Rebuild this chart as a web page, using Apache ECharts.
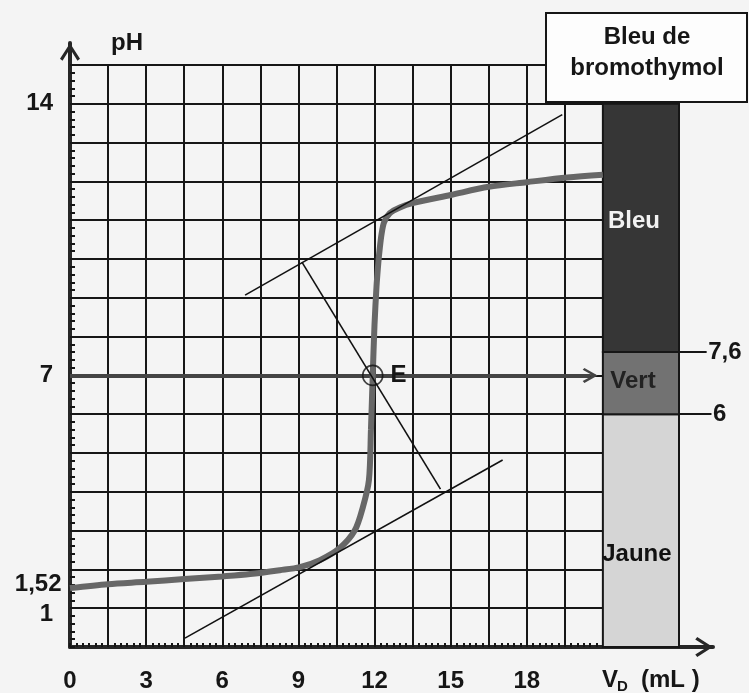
<!DOCTYPE html>
<html lang="fr">
<head>
<meta charset="UTF-8">
<title>Dosage pH-métrique - bleu de bromothymol</title>
<script src="https://cdn.jsdelivr.net/npm/echarts@6/dist/echarts.min.js"></script>
<style>
  html, body { margin: 0; padding: 0; background: #f4f4f4; }
  #main { width: 749px; height: 693px; }
</style>
</head>
<body>
<div id="main"></div>
<script>
// courbe pH = f(VD)
var volumes = [0, 1.5, 3, 4.5, 6, 7.1, 8.27, 9.06, 9.85, 10.63, 11.22, 11.54, 11.78, 11.86, 11.93,
  12.0, 12.08, 12.15, 12.2, 12.28, 12.38, 12.6, 13.0, 13.5, 15.0, 16.5, 18.0, 19.6, 21.0];
var phValues = [1.52, 1.62, 1.68, 1.75, 1.82, 1.88, 1.98, 2.06, 2.24, 2.55, 3.0, 3.6, 4.3, 5.6, 7.0,
  8.3, 9.3, 9.9, 10.23, 10.65, 10.95, 11.18, 11.33, 11.44, 11.65, 11.86, 11.98, 12.1, 12.17];

// point d'équivalence et méthode des tangentes
var equivalence = [11.93, 7];
var upperTangent = [[6.9, 9.07], [19.4, 13.72]];
var lowerTangent = [[4.53, 0.23], [17.05, 4.82]];
var perpendicular = [[9.14, 9.92], [14.6, 4.07]];
var pH7Arrow = [[0, 7], [20.5, 7]];
var pHStart = [0, 1.52];

// graduations
var xTickLabels = [0, 3, 6, 9, 12, 15, 18];
var yTickLabels = [1, 7, 14];

// zone de virage du BBT
var zoneNames = ['Jaune', 'Vert', 'Bleu'];
var zoneBounds = [[0, 6], [6, 7.6], [7.6, 14]];
var columnRange = [21, 24];
var limitValues = [7.6, 6];
var limitLabels = ['7,6', '6'];

var FONT = "'Liberation Sans', Arial, sans-serif";
var INK = '#161616';
var CHEVRON = 'path://M10,0L20,15.5L17.5,17.5L10,5.5L2.5,17.5L0,15.5Z M8.6,2L11.4,2L11.4,17.5L8.6,17.5Z';

var zoneStyle = {
  Jaune: { fill: '#d5d5d5', text: '#111', offset: [-4, 24] },
  Vert: { fill: '#727272', text: '#222', offset: [-8, -2] },
  Bleu: { fill: '#363636', text: '#f2f2f2', offset: [-7, -7] }
};
var limitEnds = [25.09, 25.28];

var chart = echarts.init(document.getElementById('main'));

var curve = volumes.map(function (v, i) { return [v, phValues[i]]; });

var zoneAreas = zoneNames.map(function (name, i) {
  var st = zoneStyle[name];
  return [{
    name: name,
    coord: [columnRange[0], zoneBounds[i][0]],
    itemStyle: { color: st.fill, borderColor: INK, borderWidth: 2 },
    label: { color: st.text, offset: st.offset }
  }, {
    coord: [columnRange[1], zoneBounds[i][1]]
  }];
});

var labelFont = {
  fontFamily: FONT, fontSize: 24, fontWeight: 'bold', color: INK,
  textBorderWidth: 0, textBorderColor: 'transparent', opacity: 1
};

var option = {
  backgroundColor: '#f4f4f4',
  animation: false,
  grid: [
    { left: 70, right: 70, top: 65, bottom: 46, outerBoundsMode: 'none' },
    { left: 70, right: 36, top: 43, bottom: 46, outerBoundsMode: 'none' }
  ],
  xAxis: [{
    type: 'value', gridIndex: 0, min: 0, max: 24, interval: 1.5,
    axisLine: { show: false },
    axisTick: { show: true, inside: true, length: 4, lineStyle: { color: INK, width: 2 } },
    minorTick: { show: true, splitNumber: 6, length: 4, lineStyle: { color: INK, width: 2 } },
    splitLine: { show: true, lineStyle: { color: INK, width: 2 } },
    axisLabel: Object.assign({
      margin: 22, interval: 0,
      formatter: function (v) { return xTickLabels.indexOf(v) >= 0 ? String(v) : ''; }
    }, labelFont)
  }, {
    type: 'value', gridIndex: 1, min: 0, max: 1,
    axisLine: {
      show: true, onZero: false, symbol: ['none', CHEVRON], symbolSize: [20, 18], symbolOffset: [0, -9],
      lineStyle: { color: '#262626', width: 4 }
    },
    axisTick: { show: false }, axisLabel: { show: false }, splitLine: { show: false }
  }],
  yAxis: [{
    type: 'value', gridIndex: 0, min: 0, max: 15, interval: 1,
    axisLine: { show: false },
    axisTick: { show: true, inside: true, length: 5, lineStyle: { color: INK, width: 2 } },
    minorTick: { show: true, splitNumber: 5, length: 5, lineStyle: { color: INK, width: 2 } },
    splitLine: { show: true, lineStyle: { color: INK, width: 2 } },
    axisLabel: Object.assign({
      margin: 17,
      formatter: function (v) {
        if (yTickLabels.indexOf(v) < 0) return '';
        // le « 1 » est décalé vers le bas pour laisser la place à 1,52
        return v === 1 ? '{low|1}' : String(v);
      },
      rich: { low: { fontFamily: FONT, fontSize: 24, fontWeight: 'bold', color: INK, padding: [12, 0, 0, 0] } }
    }, labelFont)
  }, {
    type: 'value', gridIndex: 1, min: 0, max: 1,
    axisLine: {
      show: true, onZero: false, symbol: ['none', CHEVRON], symbolSize: [20, 18], symbolOffset: [0, -9],
      lineStyle: { color: '#262626', width: 4 }
    },
    axisTick: { show: false }, axisLabel: { show: false }, splitLine: { show: false }
  }],
  series: [
    {
      name: 'pH',
      type: 'line',
      data: curve,
      smooth: 0.3,
      showSymbol: false,
      symbol: 'none',
      clip: false,
      z: 4,
      lineStyle: { color: '#676767', width: 6 },
      markArea: {
        silent: true,
        label: {
          show: true, position: 'inside',
          fontFamily: FONT, fontSize: 24, fontWeight: 'bold'
        },
        data: zoneAreas
      }
    },
    {
      name: 'pH 7',
      type: 'lines',
      coordinateSystem: 'cartesian2d',
      symbol: ['none', CHEVRON],
      symbolSize: 15,
      z: 3,
      lineStyle: { color: '#444', width: 4, opacity: 1 },
      data: [{ coords: pH7Arrow }]
    },
    {
      name: 'tangentes',
      type: 'lines',
      coordinateSystem: 'cartesian2d',
      symbol: 'none',
      z: 5,
      lineStyle: { color: '#111', width: 1.6, opacity: 1 },
      data: [{ coords: upperTangent }, { coords: lowerTangent }, { coords: perpendicular }]
    },
    {
      name: 'limites',
      type: 'lines',
      coordinateSystem: 'cartesian2d',
      symbol: 'none',
      clip: false,
      z: 5,
      lineStyle: { color: INK, width: 2, opacity: 1 },
      data: limitValues.map(function (v, i) {
        return { coords: [[columnRange[1], v], [limitEnds[i], v]] };
      })
    },
    {
      name: 'repères',
      type: 'scatter',
      symbol: 'circle',
      symbolSize: 1,
      clip: false,
      z: 6,
      itemStyle: { color: 'rgba(0,0,0,0)' },
      label: Object.assign({ show: true, position: 'right', distance: 1 }, labelFont),
      data: limitValues.map(function (v, i) {
        return { value: [limitEnds[i], v], label: { formatter: limitLabels[i] } };
      }).concat([{
        value: pHStart,
        label: { position: 'left', distance: 8, offset: [0, -4], formatter: String(pHStart[1]).replace('.', ',') }
      }])
    },
    {
      name: 'E',
      type: 'scatter',
      symbol: 'circle',
      symbolSize: 20,
      z: 7,
      itemStyle: { color: 'rgba(0,0,0,0)', borderColor: '#111', borderWidth: 1.6 },
      label: Object.assign({ show: true, position: 'right', distance: 7, formatter: 'E' }, labelFont),
      data: [equivalence]
    }
  ],
  graphic: [
    {
      type: 'text', x: 127, y: 43, z: 100,
      style: { text: 'pH', font: 'bold 24px ' + FONT, fill: INK,
        align: 'center', verticalAlign: 'middle', textAlign: 'center', textVerticalAlign: 'middle' }
    },
    {
      type: 'text', x: 602, y: 680, z: 100,
      style: { text: 'V', font: 'bold 24px ' + FONT, fill: INK,
        align: 'left', verticalAlign: 'middle', textAlign: 'left', textVerticalAlign: 'middle' }
    },
    {
      type: 'text', x: 617, y: 687, z: 100,
      style: { text: 'D', font: 'bold 15px ' + FONT, fill: INK,
        align: 'left', verticalAlign: 'middle', textAlign: 'left', textVerticalAlign: 'middle' }
    },
    {
      type: 'text', x: 641, y: 680, z: 100,
      style: { text: '(mL )', font: 'bold 24px ' + FONT, fill: INK,
        align: 'left', verticalAlign: 'middle', textAlign: 'left', textVerticalAlign: 'middle' }
    },
    {
      type: 'group', z: 100,
      children: [
        {
          type: 'rect', z: 100,
          shape: { x: 546, y: 13, width: 201, height: 89 },
          style: { fill: '#fdfdfd', stroke: INK, lineWidth: 2 }
        },
        {
          type: 'text', z: 101, x: 647, y: 53,
          style: { text: 'Bleu de\nbromothymol', font: 'bold 24px ' + FONT, fill: INK, lineHeight: 31,
            align: 'center', verticalAlign: 'middle', textAlign: 'center', textVerticalAlign: 'middle' }
        }
      ]
    }
  ]
};

chart.setOption(option);
</script>
</body>
</html>
